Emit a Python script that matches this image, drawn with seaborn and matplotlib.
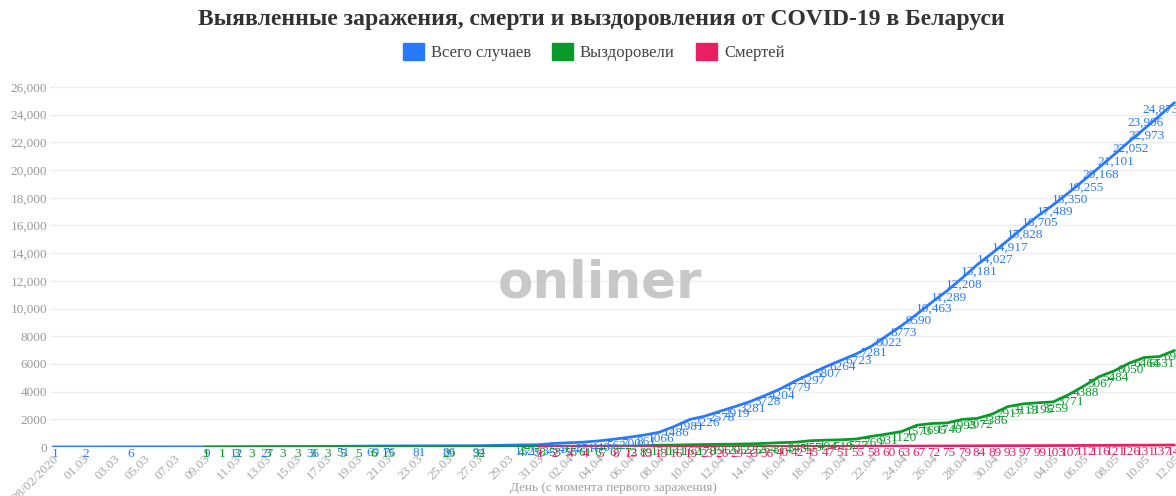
import numpy as np
import pandas as pd
import matplotlib
matplotlib.use("Agg")
import matplotlib.pyplot as plt
import seaborn as sns
from matplotlib.patches import Patch
from matplotlib.ticker import FuncFormatter

# ---------------- data ----------------
dates = pd.date_range("2020-02-28", "2020-05-12", freq="D")
day_labels = ["28/02/2020"] + [d.strftime("%d.%m") for d in dates[1:]]

series_names = ["Всего случаев", "Выздоровели", "Смертей"]
series_colors = ["#2979ff", "#0a9a2c", "#e91e63"]

cases_days = [0, 2, 5, 10, 12, 14, 17, 19, 21, 22, 24, 26, 28, 31] + list(range(32, 75))
cases_vals = [1, 2, 6, 9, 12, 27, 36, 51, 69, 76, 81, 86, 94, 152,
              163, 254, 304, 351, 440, 562, 700, 861, 1066,
              1486, 1981, 2226, 2578, 2919, 3281, 3728, 4204, 4779, 5297,
              5807, 6264, 6723, 7281, 8022, 8773, 9590, 10463, 11289, 12208,
              13181, 14027, 14917, 15828, 16705, 17489, 18350, 19255, 20168, 21101,
              22052, 22973, 23906, 24873]

rec_days = [10, 11, 12, 13, 14, 15, 16, 17, 18, 19, 20, 21, 22, 26, 28, 31] + list(range(32, 75))
rec_vals = [1, 1, 3, 3, 3, 3, 3, 3, 3, 5, 5, 6, 15, 29, 32, 47,
            53, 53, 55, 61, 67, 67, 72, 89, 131, 141, 162, 178, 196, 205, 226, 264,
            314, 345, 455, 494, 519, 577, 769, 931, 1120,
            1573, 1695, 1740, 1993, 2072, 2386, 2917, 3113, 3195, 3259,
            3771, 4388, 5067, 5484, 6050, 6464, 6531, 6974]

death_days = list(range(32, 75))
death_vals = [1, 2, 4, 4, 5, 8, 13, 13, 13, 16, 19, 23, 26, 29, 33, 36, 40, 42, 45, 47,
              51, 55, 58, 60, 63, 67, 72, 75, 79, 84, 89, 93, 97, 99, 103, 107, 112,
              116, 121, 126, 131, 137, 142]

y_ticks = list(range(0, 26001, 2000))

df = pd.concat([
    pd.DataFrame({"day": cases_days, "value": cases_vals, "series": series_names[0]}),
    pd.DataFrame({"day": rec_days, "value": rec_vals, "series": series_names[1]}),
    pd.DataFrame({"day": death_days, "value": death_vals, "series": series_names[2]}),
], ignore_index=True)

# ---------------- style ----------------
sns.set_theme(style="white")
plt.rcParams["font.family"] = ["Liberation Serif", "DejaVu Serif"]

fig = plt.figure(figsize=(11.76, 4.96), dpi=100)
ax = fig.add_axes([50 / 1176, 49 / 496, 1126 / 1176, 360 / 496])

palette = dict(zip(series_names, series_colors))
sns.lineplot(data=df, x="day", y="value", hue="series", hue_order=series_names,
             palette=palette, linewidth=2.0, legend=False, estimator=None,
             sort=True, ax=ax, zorder=3)

# data labels
def fmt(v):
    return f"{v:,}" if v >= 10000 else str(v)

for name, days, vals in [(series_names[0], cases_days, cases_vals),
                         (series_names[1], rec_days, rec_vals),
                         (series_names[2], death_days, death_vals)]:
    for d, v in zip(days, vals):
        dx = 2
        if name == series_names[0] and d >= 73:
            dx = -14
        ax.annotate(fmt(v), (d, v), xytext=(dx, -7), textcoords="offset pixels",
                    ha="center", va="center", fontsize=9.5, color=palette[name],
                    zorder=5, annotation_clip=False)

ax.set_xlim(-0.2, 74.1)
ax.set_ylim(0, 26000)
ax.set_yticks(y_ticks)
ax.yaxis.set_major_formatter(FuncFormatter(lambda v, p: fmt(int(v))))
ax.set_xticks(range(0, 75, 2))
ax.set_xticklabels(day_labels[::2], rotation=45, ha="right", rotation_mode="anchor")
ax.tick_params(axis="y", length=0, pad=2, labelsize=9.5, labelcolor="#9a9a9a")
ax.tick_params(axis="x", length=4, color="#e8e8e8", pad=0, labelsize=9.5, labelcolor="#a8a8a8")
ax.grid(axis="y", color="#eeeeee", linewidth=1)
ax.grid(axis="x", visible=False)
for s in ax.spines.values():
    s.set_visible(False)
ax.set_ylabel("")
ax.set_xlabel("")
fig.text(613 / 1176, 1 - 488 / 496, "День (с момента первого заражения)",
         ha="center", va="center", fontsize=9.5, color="#a0a0a0")

# watermark
ax.text(600 / 1176, 1 - 283 / 496, "onliner", transform=fig.transFigure,
        ha="center", va="center", fontsize=37, fontweight="bold",
        family="DejaVu Sans", color="#c8c8c8", zorder=1)

# title & legend
fig.text(601 / 1176, 1 - 19 / 496, "Выявленные заражения, смерти и выздоровления от COVID-19 в Беларуси",
         ha="center", va="center", fontsize=17, fontweight="bold", color="#333333")
handles = [Patch(facecolor=c, edgecolor=c, label=n) for n, c in zip(series_names, series_colors)]
fig.legend(handles=handles, loc="center", bbox_to_anchor=(0.505, 1 - 52 / 496), ncol=3,
           frameon=False, fontsize=12, handlelength=1.25, handleheight=1.25,
           handletextpad=0.4, columnspacing=1.3, labelcolor="#444444")

fig.savefig("out.png", dpi=100)
